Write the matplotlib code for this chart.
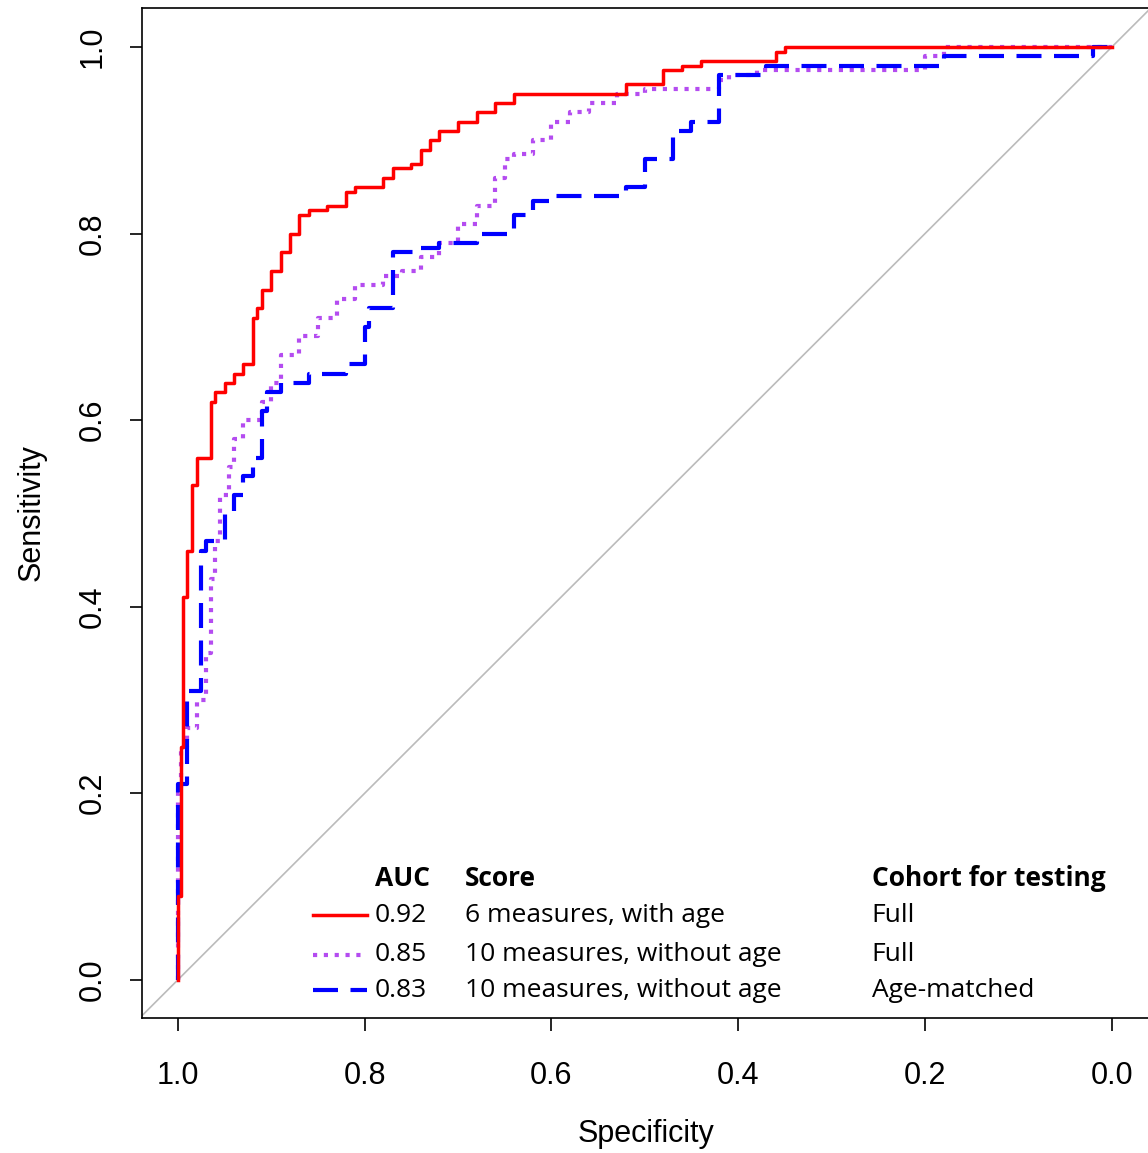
import matplotlib.pyplot as plt

# ROC curves (specificity, sensitivity)
red_spec = [1.0, 0.997, 0.995, 0.99, 0.985, 0.98, 0.975, 0.965, 0.96, 0.95, 0.94, 0.93, 0.92, 0.915, 0.91, 0.9, 0.89,
            0.88, 0.87, 0.86, 0.84, 0.82, 0.81, 0.78, 0.77, 0.75, 0.74, 0.73, 0.72, 0.70, 0.68, 0.66, 0.64, 0.62,
            0.52, 0.48, 0.46, 0.44, 0.36, 0.35, 0.27, 0.0]
red_sens = [0.0, 0.09, 0.25, 0.41, 0.46, 0.53, 0.56, 0.56, 0.62, 0.63, 0.64, 0.65, 0.66, 0.71, 0.72, 0.74, 0.76,
            0.78, 0.80, 0.82, 0.825, 0.83, 0.845, 0.85, 0.86, 0.87, 0.875, 0.89, 0.90, 0.91, 0.92, 0.93, 0.94, 0.95,
            0.95, 0.96, 0.975, 0.98, 0.985, 0.995, 1.0, 1.0]

pur_spec = [1.0, 0.997, 0.99, 0.98, 0.97, 0.965, 0.96, 0.955, 0.945, 0.94, 0.93, 0.91, 0.9, 0.89, 0.87, 0.85, 0.83,
            0.81, 0.78, 0.76, 0.74, 0.72, 0.70, 0.68, 0.66, 0.65, 0.64, 0.62, 0.60, 0.58, 0.56, 0.53, 0.50, 0.47,
            0.42, 0.41, 0.38, 0.2, 0.18, 0.0]
pur_sens = [0.0, 0.2, 0.25, 0.27, 0.3, 0.35, 0.43, 0.47, 0.52, 0.55, 0.58, 0.60, 0.62, 0.64, 0.67, 0.69, 0.71,
            0.73, 0.745, 0.755, 0.76, 0.775, 0.79, 0.81, 0.83, 0.86, 0.88, 0.885, 0.90, 0.92, 0.93, 0.94, 0.95, 0.955,
            0.955, 0.965, 0.97, 0.975, 0.99, 1.0]

blu_spec = [1.0, 1.0, 0.99, 0.99, 0.975, 0.97, 0.95, 0.94, 0.93, 0.92, 0.91, 0.905, 0.89, 0.86, 0.82, 0.80, 0.795,
            0.77, 0.74, 0.72, 0.68, 0.66, 0.64, 0.62, 0.60, 0.58, 0.52, 0.50, 0.49, 0.47, 0.45, 0.44, 0.42, 0.41,
            0.37, 0.35, 0.18, 0.17, 0.02, 0.0]
blu_sens = [0.0, 0.2, 0.21, 0.3, 0.31, 0.46, 0.47, 0.50, 0.52, 0.54, 0.56, 0.61, 0.63, 0.64, 0.65, 0.66, 0.70,
            0.72, 0.78, 0.785, 0.79, 0.80, 0.80, 0.82, 0.835, 0.84, 0.84, 0.85, 0.88, 0.88, 0.91, 0.92, 0.92, 0.97,
            0.97, 0.98, 0.98, 0.99, 0.99, 1.0]

auc = ['0.92', '0.85', '0.83']
score = ['6 measures, with age', '10 measures, without age', '10 measures, without age']
cohort = ['Full', 'Full', 'Age-matched']

plt.rcParams['font.family'] = ['Liberation Sans', 'DejaVu Sans']

fig = plt.figure(figsize=(11.48, 11.53), dpi=100)
ax = fig.add_axes([142/1148, 135/1153, 1007/1148, 1010/1153])

ax.plot([1.04, -0.04], [-0.04, 1.04], color='#bbbbbb', lw=1.2)
ax.plot(pur_spec, pur_sens, color='#b44cf0', lw=3, ls=(0, (1, 1.6)), drawstyle='steps-pre')
ax.plot(blu_spec, blu_sens, color='#0000ff', lw=3, ls=(0, (6, 3)), drawstyle='steps-pre')
ax.plot(red_spec, red_sens, color='#ff0000', lw=2.5, drawstyle='steps-pre')

ax.set_xlim(1.0385, -0.04)
ax.set_ylim(-0.041, 1.042)
ax.set_xticks([1.0, 0.8, 0.6, 0.4, 0.2, 0.0])
ax.set_yticks([0.0, 0.2, 0.4, 0.6, 0.8, 1.0])
ax.set_xticklabels(['1.0', '0.8', '0.6', '0.4', '0.2', '0.0'])
ax.set_yticklabels(['0.0', '0.2', '0.4', '0.6', '0.8', '1.0'], rotation=90, va='center')
ax.tick_params(labelsize=22, length=9, width=1.2)
ax.tick_params(axis='x', pad=22)
ax.tick_params(axis='y', pad=16)
for s in ax.spines.values():
    s.set_linewidth(1.2)
ax.set_xlabel('Specificity', fontsize=22, labelpad=20)
ax.set_ylabel('Sensitivity', fontsize=22, labelpad=22)

# legend table
lf = ['Open Sans', 'DejaVu Sans']
ys = [0.069, 0.027, -0.011]
styles = [dict(color='#ff0000', lw=2.5),
          dict(color='#b44cf0', lw=3, ls=(0, (1, 1.6))),
          dict(color='#0000ff', lw=3, ls=(0, (6, 3)))]
fs = 19
ax.text(0.789, 0.109, 'AUC', fontsize=fs, fontweight='bold', family=lf, va='center')
ax.text(0.693, 0.109, 'Score', fontsize=fs, fontweight='bold', family=lf, va='center')
ax.text(0.257, 0.109, 'Cohort for testing', fontsize=fs, fontweight='bold', family=lf, va='center')
for y, a, s, c, st in zip(ys, auc, score, cohort, styles):
    ax.plot([0.855, 0.797], [y, y], **st)
    ax.text(0.789, y, a, fontsize=fs, family=lf, va='center')
    ax.text(0.693, y, s, fontsize=fs, family=lf, va='center')
    ax.text(0.257, y, c, fontsize=fs, family=lf, va='center')

fig.savefig('out.png', dpi=100)
